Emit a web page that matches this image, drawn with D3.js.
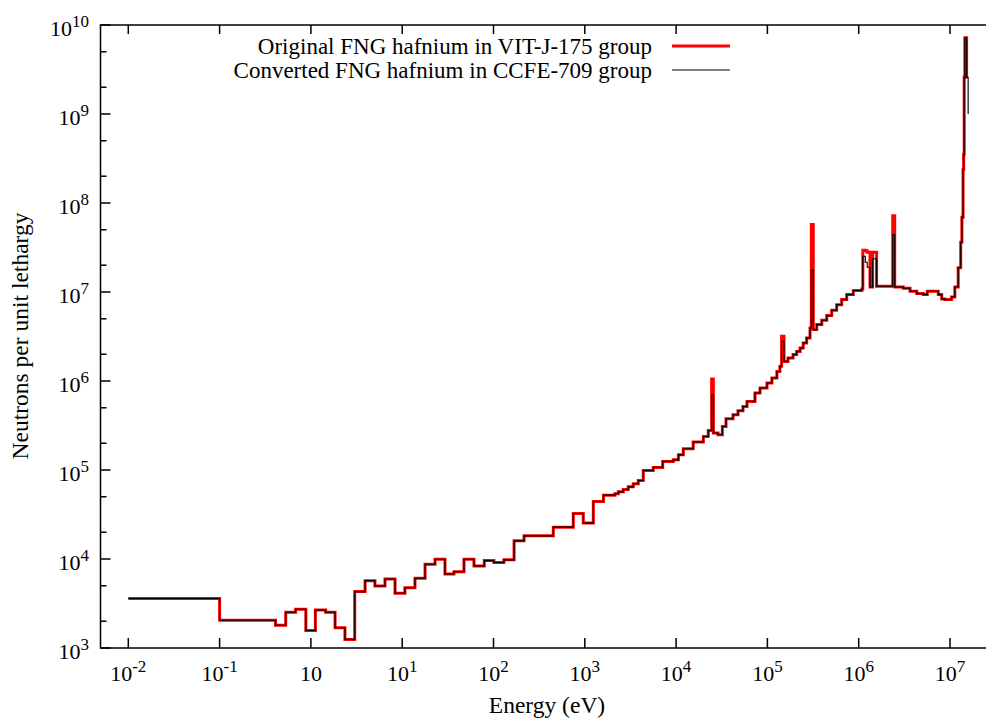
<!DOCTYPE html>
<html>
<head>
<meta charset="utf-8">
<script src="https://cdn.jsdelivr.net/npm/d3@7"></script>
<style>
  html, body { margin: 0; padding: 0; background: #fff; }
  svg { display: block; }
  text { font-family: "Liberation Serif", "Times New Roman", serif; fill: #000; }
</style>
</head>
<body>
<svg id="chart" width="986" height="718"></svg>
<script>
// ---- data ----
// lower energy edge of each step (eV)
const energy = [0.01, 0.1, 0.41, 0.53, 0.68, 0.88, 1.12, 1.45, 1.84, 2.36, 3.02, 3.92, 5.03, 6.48, 8.35,
  10.7, 13.8, 17.8, 22.9, 29.4, 36.9, 47.5, 61.1, 79.3, 101, 130, 168, 216, 452, 748, 963, 1240, 1600,
  2140, 2330, 2640, 2990, 3400, 3850, 4370, 5620, 7130, 9310, 10600, 12000, 15400, 19900, 22500,
  25600, 28800, 32100, 35200, 42000, 47600, 54000, 59800, 73100, 83000, 99000, 112000, 127000, 137000,
  152000, 168000, 191000, 209000, 228000, 247000, 269000, 293000, 318000, 347000, 394000, 447000,
  506000, 574000, 651000, 739000, 873000, 1.08e6, 1.33e6, 1.57e6, 2.48e6, 3.08e6, 3.65e6, 4.32e6,
  5.1e6, 5.64e6, 7.44e6, 8.11e6, 8.81e6, 1.04e7, 1.13e7, 1.23e7, 1.31e7, 1.35e7, 1.39e7, 1.41e7,
  1.43e7, 1.455e7, 1.52e7];
// neutrons per unit lethargy in each step (shared by both group structures)
const flux = [3600, 2050, 1800, 2520, 2720, 1570, 2670, 2520, 1690, 1250, 4300, 5710, 4980, 5970, 4120,
  4760, 6080, 8730, 9950, 6790, 7210, 9950, 8360, 9600, 9120, 9780, 16000, 18200, 22800, 32400, 25300,
  44300, 52200, 54000, 56800, 60400, 64700, 70000, 76200, 98700, 107000, 125000, 130000, 148000,
  173000, 206000, 238000, 278000, 260000, 249000, 308000, 376000, 417000, 463000, 518000, 590000,
  733000, 834000, 950000, 1.08e6, 1.28e6, 1.46e6, 1.66e6, 1.81e6, 1.98e6, 2.15e6, 2.35e6, 2.68e6,
  3.05e6, 3.95e6, 3.78e6, 4.30e6, 4.81e6, 5.43e6, 6.23e6, 7.21e6, 8.22e6, 9.35e6, 1.04e7, 1.08e7,
  1.14e7, 1.16e7, 1.14e7, 1.10e7, 1.02e7, 9.6e6, 9.35e6, 1.02e7, 9.35e6, 8.36e6, 8.22e6, 8.81e6,
  1.14e7, 1.87e7, 3.62e7, 6.9e7, 2.38e8, 3.5e8, 2.58e9, 7.2e9, 2.58e9];
// narrow peaks where the two group structures differ
const spikeStart = [24500, 143000, 303000, 1.11e6, 1.18e6, 1.24e6, 1.42e6, 2.36e6];
const spikeEnd   = [25600, 152000, 318000, 1.18e6, 1.24e6, 1.33e6, 1.57e6, 2.48e6];
const spikeRed   = [1.05e6, 3.18e6, 5.73e7, 2.95e7, 2.9e7, 2.8e7, 2.8e7, 7.2e7];
const spikeBlack = [7.0e5, 2.79e6, 1.75e7, 2.52e7, 2.16e7, 1.9e7, 2.36e7, 4.43e7];
// last edge of each series
const redEnd = [1.55e7, 2.58e9];
const blackEnd = [1.58e7, 1.0e9];

const seriesNames = ["Original FNG hafnium in VIT-J-175 group", "Converted FNG hafnium in CCFE-709 group"];
const seriesColors = ["#ff0000", "#000000"];

const xTickVals = [1e-2, 1e-1, 1, 1e1, 1e2, 1e3, 1e4, 1e5, 1e6, 1e7];
const xTickLabels = [["10", "-2"], ["10", "-1"], ["10", ""], ["10", "1"], ["10", "2"], ["10", "3"],
  ["10", "4"], ["10", "5"], ["10", "6"], ["10", "7"]];
const yTickVals = [1e3, 1e4, 1e5, 1e6, 1e7, 1e8, 1e9, 1e10];
const yTickLabels = [["10", "3"], ["10", "4"], ["10", "5"], ["10", "6"], ["10", "7"], ["10", "8"], ["10", "9"], ["10", "10"]];

// ---- layout ----
const frameL = 100.5, frameR = 996, frameT = 25, frameB = 648;
const x = d3.scaleLog().domain([1e-2, 1e7]).range([128.3, 950]);
const y = d3.scaleLog().domain([1e3, 1e10]).range([frameB, frameT]);
const tickFont = 22, supFont = 17, titleFont = 23.5, legendFont = 23;

const svg = d3.select("#chart");

function buildSeries(peaks, endPt) {
  const pts = energy.map((e, i) => [e, flux[i]])
    .filter(([e]) => !spikeStart.some((s, j) => e >= s && e < spikeEnd[j]));
  spikeStart.forEach((s, j) => pts.push([s, peaks[j]]));
  pts.push(endPt);
  pts.sort((a, b) => a[0] - b[0]);
  return pts;
}
const redData = buildSeries(spikeRed, redEnd);
const blackData = buildSeries(spikeBlack, blackEnd);

const line = d3.line().x(d => x(d[0])).y(d => y(d[1])).curve(d3.curveStepAfter);

const plot = svg.append("g");
plot.append("path").datum(redData).attr("d", line)
  .attr("fill", "none").attr("stroke", seriesColors[0]).attr("stroke-width", 3);
plot.append("path").datum(blackData).attr("d", line)
  .attr("fill", "none").attr("stroke", seriesColors[1]).attr("stroke-width", 1.1);

// ---- axes / frame ----
const axes = svg.append("g").attr("stroke", "#000").attr("stroke-width", 1.5);
axes.append("rect").attr("x", frameL).attr("y", frameT).attr("width", frameR - frameL).attr("height", frameB - frameT)
  .attr("fill", "none");

// x ticks (bottom & top), inward
xTickVals.forEach(v => {
  const px = x(v);
  axes.append("line").attr("x1", px).attr("x2", px).attr("y1", frameB).attr("y2", frameB - 10);
  axes.append("line").attr("x1", px).attr("x2", px).attr("y1", frameT).attr("y2", frameT + 9);
});
// y ticks major + minor (2, 5), left & right
for (let d = 3; d <= 10; d++) {
  const v = Math.pow(10, d);
  const py = y(v);
  axes.append("line").attr("x1", frameL).attr("x2", frameL + 10).attr("y1", py).attr("y2", py);
  axes.append("line").attr("x1", frameR).attr("x2", frameR - 10).attr("y1", py).attr("y2", py);
  if (d < 10) {
    [2, 5].forEach(m => {
      const pm = y(v * m);
      axes.append("line").attr("x1", frameL).attr("x2", frameL + 6).attr("y1", pm).attr("y2", pm);
      axes.append("line").attr("x1", frameR).attr("x2", frameR - 6).attr("y1", pm).attr("y2", pm);
    });
  }
}

// tick labels
xTickVals.forEach((v, i) => {
  const t = svg.append("text").attr("x", x(v)).attr("y", 681).attr("text-anchor", "middle")
    .attr("font-size", tickFont);
  t.append("tspan").text(xTickLabels[i][0]);
  if (xTickLabels[i][1]) t.append("tspan").attr("dy", -9).attr("font-size", supFont).text(xTickLabels[i][1]);
});
yTickVals.forEach((v, i) => {
  const t = svg.append("text").attr("x", 89).attr("y", y(v) + 10.5).attr("text-anchor", "end")
    .attr("font-size", tickFont);
  t.append("tspan").text(yTickLabels[i][0]);
  t.append("tspan").attr("dy", -9).attr("font-size", supFont).text(yTickLabels[i][1]);
});

// axis titles
svg.append("text").attr("x", 547).attr("y", 713).attr("text-anchor", "middle").attr("font-size", titleFont)
  .text("Energy (eV)");
svg.append("text").attr("transform", "translate(28,336) rotate(-90)").attr("text-anchor", "middle")
  .attr("font-size", titleFont).text("Neutrons per unit lethargy");

// legend
const legY = [46, 70];
seriesNames.forEach((n, i) => {
  svg.append("text").attr("x", 652).attr("y", legY[i] + 7.5).attr("text-anchor", "end").attr("font-size", legendFont).text(n);
  svg.append("line").attr("x1", 672).attr("x2", 730).attr("y1", legY[i]).attr("y2", legY[i])
    .attr("stroke", seriesColors[i]).attr("stroke-width", i === 0 ? 3 : 1.1);
});
</script>
</body>
</html>
